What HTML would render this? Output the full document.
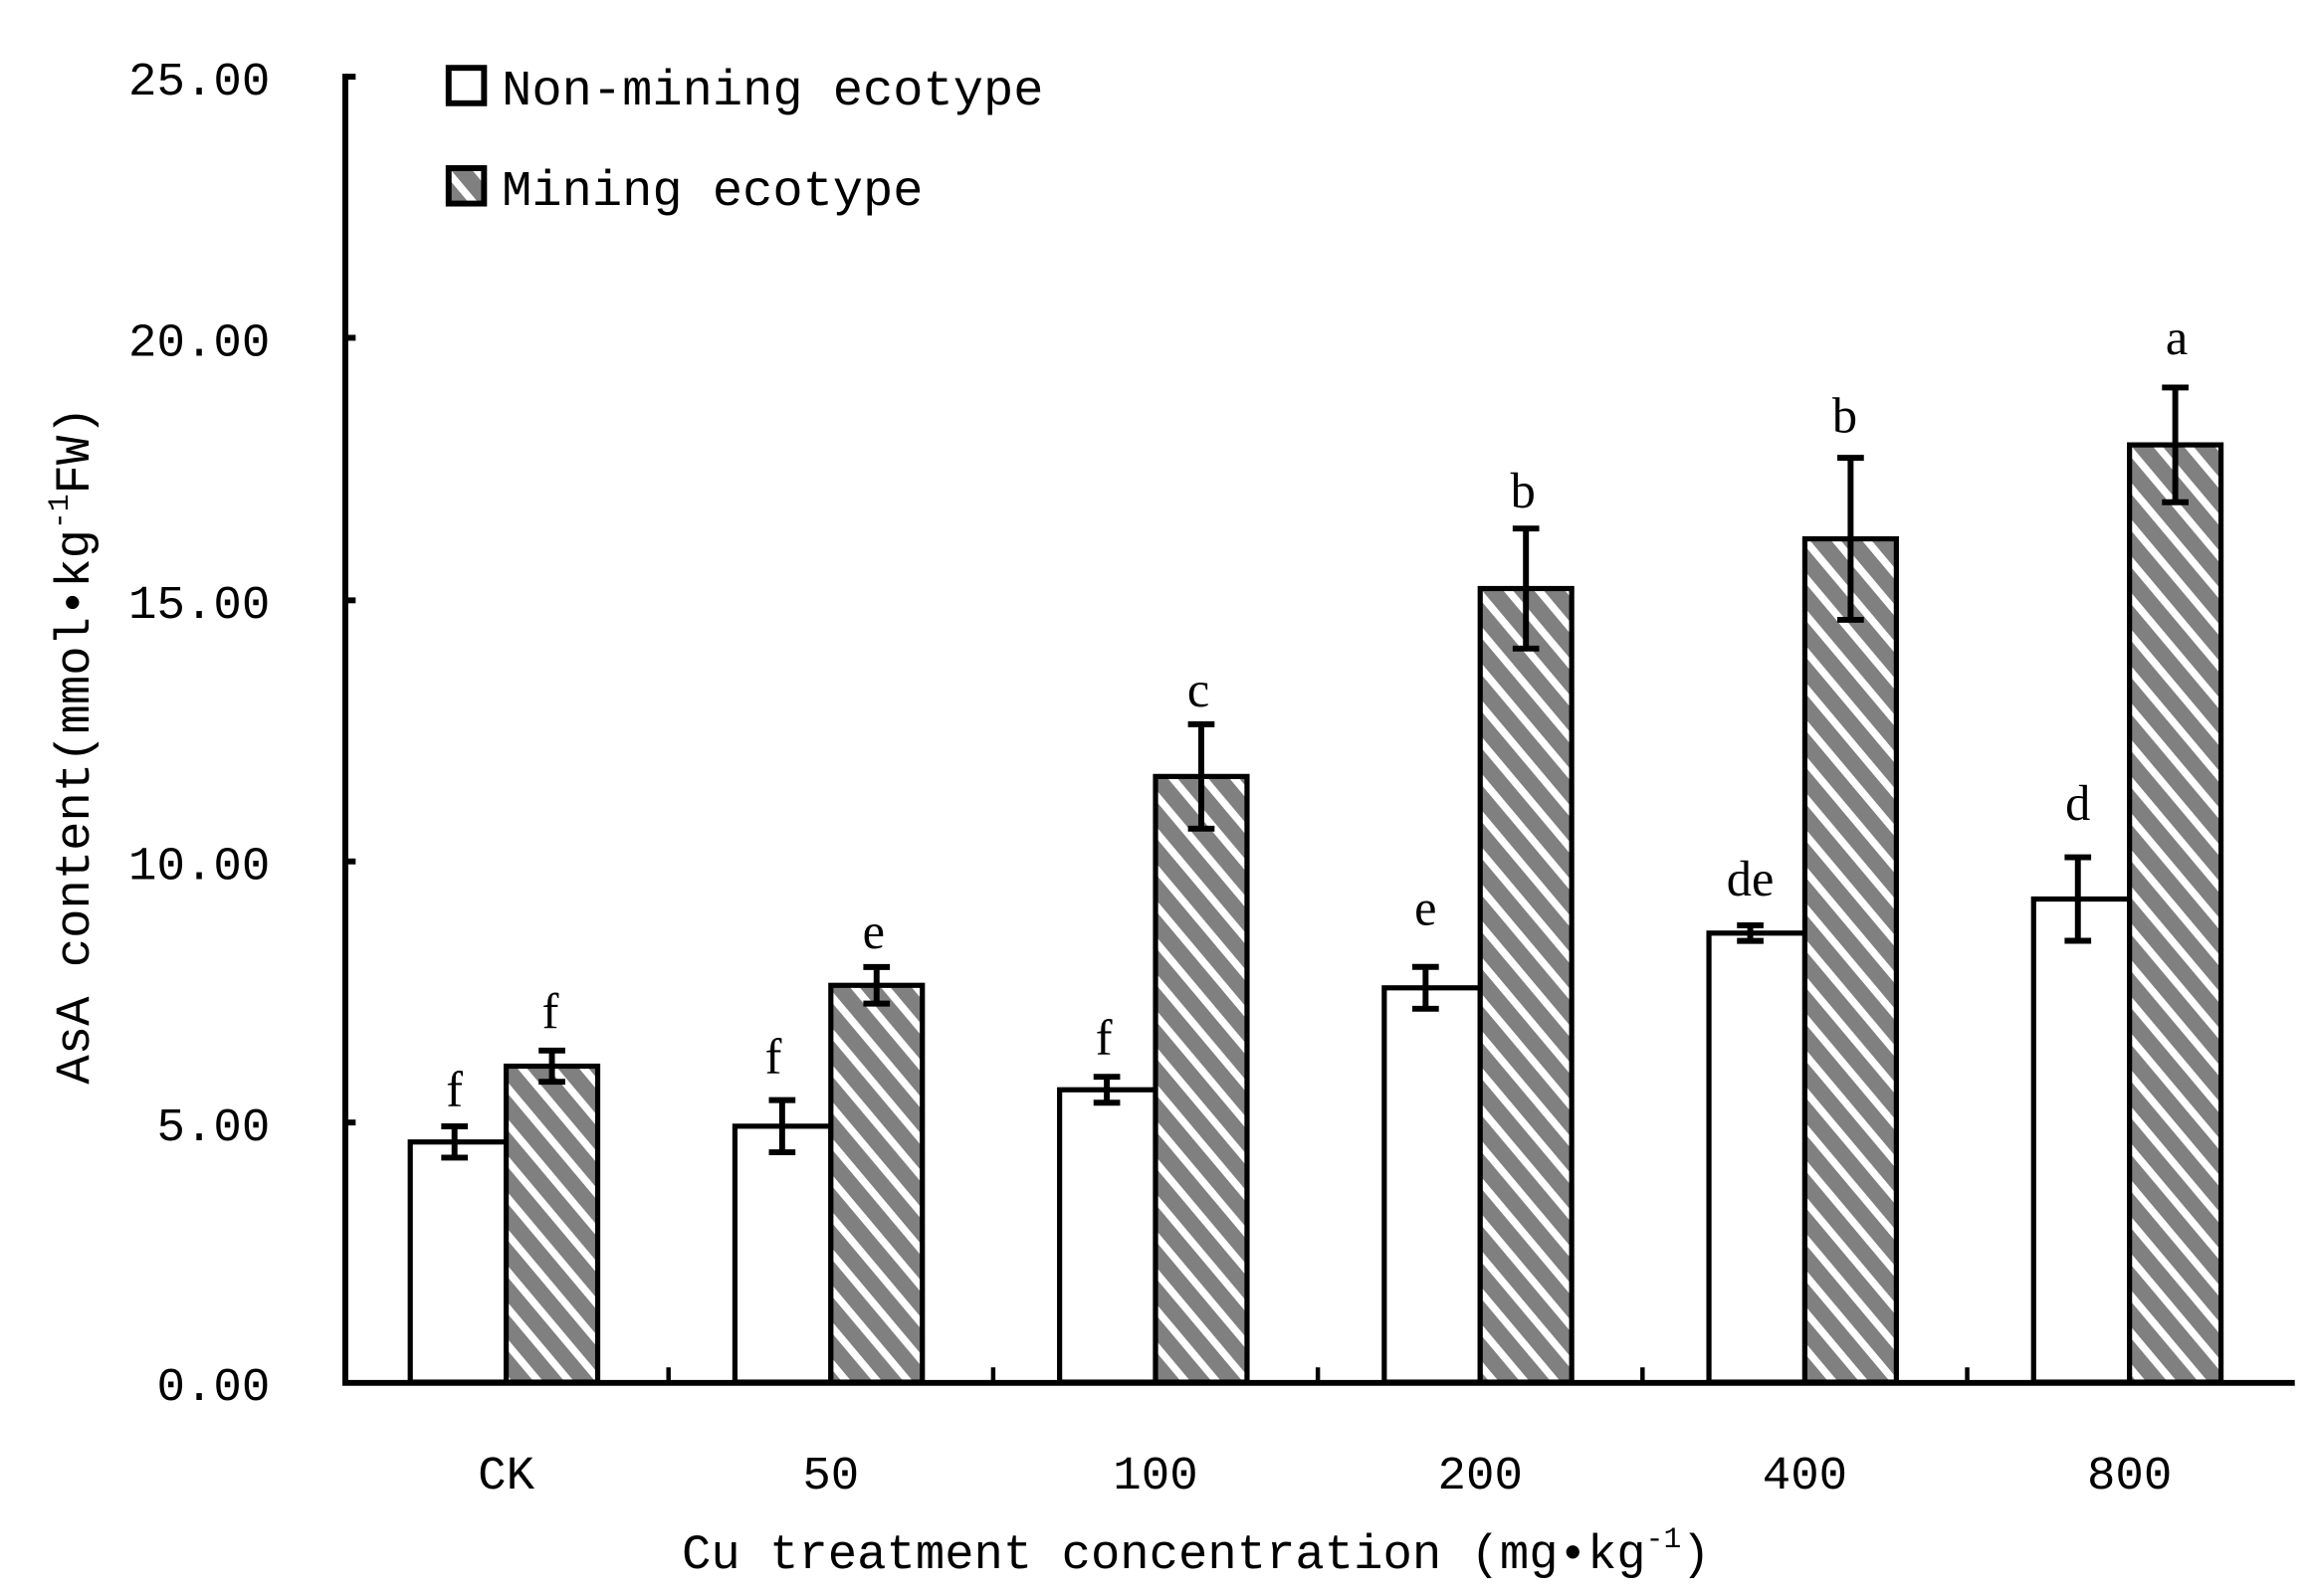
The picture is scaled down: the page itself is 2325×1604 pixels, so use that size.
<!DOCTYPE html>
<html><head><meta charset="utf-8"><style>html,body{margin:0;padding:0;background:#fff}svg{display:block}</style></head>
<body>
<svg width="2325" height="1604" viewBox="0 0 1568 1082" preserveAspectRatio="none" xmlns="http://www.w3.org/2000/svg" font-family="Liberation Mono, monospace">
<defs>
<pattern id="h" patternUnits="userSpaceOnUse" width="16" height="16" patternTransform="rotate(-40)">
<rect width="16" height="16" fill="#fff"/>
<rect width="11" height="16" fill="#808080"/>
</pattern>
</defs>
<rect width="1568" height="1082" fill="#fff"/>
<g fill="#000" font-size="32" text-anchor="end">
<text x="183" y="64">25.00</text>
<text x="183" y="241">20.00</text>
<text x="183" y="419">15.00</text>
<text x="183" y="596">10.00</text>
<text x="183" y="773">5.00</text>
<text x="183" y="949">0.00</text>
</g>
<g stroke="#000" stroke-width="4">
<line x1="234" y1="50" x2="234" y2="939"/>
<line x1="232" y1="937.5" x2="1555" y2="937.5"/>
<line x1="234" y1="52" x2="241" y2="52"/>
<line x1="234" y1="229" x2="241" y2="229"/>
<line x1="234" y1="407" x2="241" y2="407"/>
<line x1="234" y1="584" x2="241" y2="584"/>
<line x1="234" y1="761" x2="241" y2="761"/>
</g>
<g stroke="#000" stroke-width="3">
<line x1="453" y1="937" x2="453" y2="927"/>
<line x1="673" y1="937" x2="673" y2="927"/>
<line x1="893" y1="937" x2="893" y2="927"/>
<line x1="1113" y1="937" x2="1113" y2="927"/>
<line x1="1333" y1="937" x2="1333" y2="927"/>
</g>
<g id="bars" stroke="#000" stroke-width="3.5">
<rect x="278" y="774.2" width="65" height="162.8" fill="#fff"/>
<rect x="343" y="722.8" width="62" height="214.2" fill="url(#h)"/>
<rect x="498" y="763.5" width="65" height="173.5" fill="#fff"/>
<rect x="563" y="668" width="62" height="269" fill="url(#h)"/>
<rect x="718" y="738.8" width="65" height="198.2" fill="#fff"/>
<rect x="783" y="526.4" width="62" height="410.6" fill="url(#h)"/>
<rect x="938" y="669.7" width="65" height="267.3" fill="#fff"/>
<rect x="1003" y="399" width="62" height="538" fill="url(#h)"/>
<rect x="1158" y="632.6" width="65" height="304.4" fill="#fff"/>
<rect x="1223" y="365.3" width="62" height="571.7" fill="url(#h)"/>
<rect x="1378" y="609.5" width="65" height="327.5" fill="#fff"/>
<rect x="1443" y="301.6" width="62" height="635.4" fill="url(#h)"/>
</g>
<g stroke="#000" stroke-width="4" fill="none">
<path d="M308 763.6V784.8M299 763.6h18M299 784.8h18"/>
<path d="M374 712.2V733.4M365 712.2h18M365 733.4h18"/>
<path d="M530 745.8V781.2M521 745.8h18M521 781.2h18"/>
<path d="M594 655.6V680.4M585 655.6h18M585 680.4h18"/>
<path d="M750 730V747.6M741 730h18M741 747.6h18"/>
<path d="M814 491V561.8M805 491h18M805 561.8h18"/>
<path d="M966 655.5V683.9M957 655.5h18M957 683.9h18"/>
<path d="M1034 358.3V439.7M1025 358.3h18M1025 439.7h18"/>
<path d="M1186 627.3V637.9M1177 627.3h18M1177 637.9h18"/>
<path d="M1254 310.4V420.2M1245 310.4h18M1245 420.2h18"/>
<path d="M1408 581.2V637.8M1399 581.2h18M1399 637.8h18"/>
<path d="M1474 262.7V340.5M1465 262.7h18M1465 340.5h18"/>
</g>
<g font-family="Liberation Serif, serif" font-size="34" text-anchor="middle" fill="#000">
<text x="308" y="750">f</text>
<text x="373" y="697">f</text>
<text x="524" y="728">f</text>
<text x="592" y="643">e</text>
<text x="748" y="715">f</text>
<text x="812" y="479">c</text>
<text x="966" y="627">e</text>
<text x="1032" y="344">b</text>
<text x="1186" y="607">de</text>
<text x="1250" y="293">b</text>
<text x="1408" y="556">d</text>
<text x="1475" y="240">a</text>
</g>
<g stroke="#000" stroke-width="4">
<rect x="304" y="46" width="24" height="24" fill="#fff"/>
<rect x="304" y="114" width="24" height="24" fill="url(#h)"/>
</g>
<g font-size="34" fill="#000">
<text x="340" y="71">Non-mining ecotype</text>
<text x="340" y="139">Mining ecotype</text>
</g>
<g font-size="32" fill="#000" text-anchor="middle">
<text x="343" y="1009">CK</text>
<text x="563" y="1009">50</text>
<text x="783" y="1009">100</text>
<text x="1003" y="1009">200</text>
<text x="1223" y="1009">400</text>
<text x="1443" y="1009">800</text>
</g>
<text x="462" y="1063" font-size="33" fill="#000">Cu treatment concentration (mg•kg<tspan font-size="20" dy="-14">-1</tspan><tspan dy="14">)</tspan></text>
<text transform="translate(60,735) rotate(-90)" font-size="33" fill="#000">AsA content(mmol•kg<tspan font-size="20" dy="-14">-1</tspan><tspan dy="14">FW)</tspan></text>
</svg>
</body></html>
